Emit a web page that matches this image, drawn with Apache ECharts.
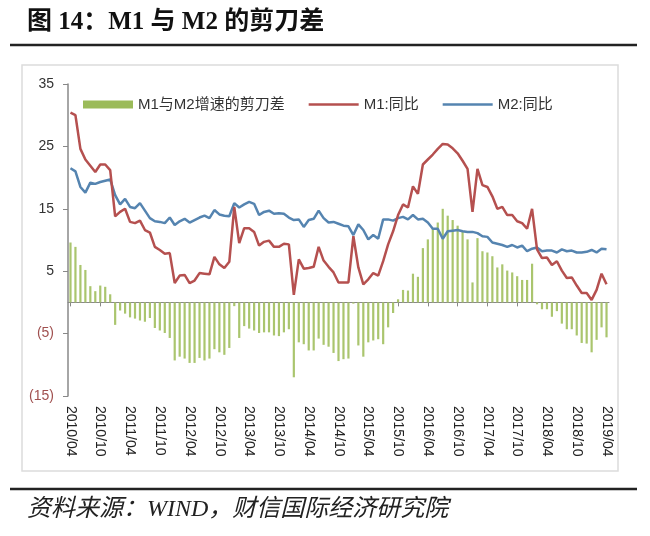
<!DOCTYPE html>
<html>
<head>
<meta charset="utf-8">
<script src="https://cdn.jsdelivr.net/npm/echarts@6/dist/echarts.min.js"></script>
<style>html,body{margin:0;padding:0;background:#fff;}#chart{width:650px;height:536px;}</style>
</head>
<body>
<div id="chart"></div>
<script>
// Months 2010/04 .. 2019/04
const categories = [];
for (let y = 2010; y <= 2019; y++) {
  for (let m = 1; m <= 12; m++) {
    if (y === 2010 && m < 4) continue;
    if (y === 2019 && m > 4) break;
    categories.push(y + '/' + (m < 10 ? '0' + m : m));
  }
}
const yTickValues = [-15, -5, 5, 15, 25, 35];

const m1 = [
  30.4, 30.0, 24.6, 22.9, 21.9, 20.9, 22.1, 22.1, 21.2,
  13.8, 14.5, 15.0, 12.9, 12.7, 13.1, 11.6, 11.2, 8.9, 8.4, 7.8, 7.9,
  3.1, 4.3, 4.4, 3.1, 3.5, 4.7, 4.6, 4.5, 7.3, 6.1, 5.5, 6.5,
  15.3, 9.5, 11.9, 11.9, 11.3, 9.1, 9.7, 9.9, 8.9, 8.9, 9.4, 9.3,
  1.2, 6.9, 5.4, 5.5, 5.7, 8.9, 6.7, 5.7, 4.8, 3.2, 3.2, 3.2,
  10.6, 5.6, 2.9, 3.7, 4.7, 4.3, 6.6, 9.3, 11.4, 14.0, 15.7, 15.2,
  18.6, 17.4, 22.1, 22.9, 23.7, 24.6, 25.4, 25.3, 24.7, 23.9, 22.7, 21.4,
  14.5, 21.4, 18.8, 18.5, 17.0, 15.0, 15.3, 14.0, 14.0, 13.0, 12.7, 11.8,
  15.0, 8.5, 7.1, 7.2, 6.0, 6.6, 5.1, 3.9, 4.0, 2.7, 1.5, 1.5,
  0.4, 2.0, 4.6, 2.9
];
const m2 = [
  21.5, 21.0, 18.5, 17.6, 19.2, 19.0, 19.3, 19.5, 19.7,
  17.2, 15.7, 16.6, 15.3, 15.1, 15.9, 14.7, 13.5, 13.0, 12.9, 12.7, 13.6,
  12.4, 13.0, 13.4, 12.8, 13.2, 13.6, 13.9, 13.5, 14.8, 14.1, 13.9, 13.8,
  15.9, 15.2, 15.7, 16.1, 15.8, 14.0, 14.5, 14.7, 14.2, 14.3, 14.2, 13.6,
  13.2, 13.3, 12.1, 13.2, 13.4, 14.7, 13.5, 12.8, 12.9, 12.6, 12.3, 12.2,
  10.8, 12.5, 11.6, 10.1, 10.8, 10.2, 13.3, 13.3, 13.1, 13.5, 13.7, 13.3,
  14.0, 13.3, 13.4, 12.8, 11.8, 11.8, 10.2, 11.4, 11.5, 11.6, 11.4, 11.3,
  11.3, 11.1, 10.6, 10.5, 9.6, 9.4, 9.2, 8.9, 9.2, 8.8, 9.1, 8.2,
  8.6, 8.8, 8.2, 8.3, 8.3, 8.0, 8.5, 8.2, 8.3, 8.0, 8.0, 8.1,
  8.4, 8.0, 8.6, 8.5
];
const gap = [
  9.6, 8.9, 6.0, 5.2, 2.6, 1.8, 2.7, 2.5, 1.3,
  -3.6, -1.3, -1.8, -2.4, -2.6, -2.9, -3.1, -2.5, -4.1, -4.5, -4.9, -5.7,
  -9.3, -8.7, -9.0, -9.7, -9.7, -8.9, -9.3, -9.0, -7.5, -8.0, -8.4, -7.3,
  -0.6, -5.7, -3.8, -4.2, -4.5, -4.9, -4.8, -4.8, -5.3, -5.4, -4.8, -4.3,
  -12.0, -6.4, -6.7, -7.7, -7.7, -5.8, -6.8, -7.1, -8.1, -9.4, -9.1, -9.0,
  -0.2, -6.9, -8.7, -6.4, -6.1, -5.9, -6.7, -4.0, -1.7, 0.5, 2.0, 1.9,
  4.6, 4.1, 8.7, 10.1, 11.9, 12.8, 15.0, 13.9, 13.2, 12.3, 11.3, 10.1,
  3.2, 10.3, 8.2, 8.0, 7.4, 5.6, 6.1, 5.1, 4.8, 4.2, 3.6, 3.6,
  6.2, -0.3, -1.1, -1.1, -2.3, -1.4, -3.4, -4.3, -4.3, -5.3, -6.5, -6.6,
  -8.0, -6.0, -4.0, -5.6
];

const chart = echarts.init(document.getElementById('chart'), null, {renderer: 'canvas'});
const sans = "'Liberation Sans', 'Noto Sans CJK SC', sans-serif";
const lineIcon = 'path://M0,0L60,0L60,3L0,3Z';
const option = {
  backgroundColor: '#ffffff',
  animation: false,
  graphic: [
    {type: 'text', left: 27, top: 10, style: {text: '图 14：M1 与 M2 的剪刀差', fill: '#111', font: "bold 25px 'Liberation Serif', 'Noto Sans CJK SC', serif"}},
    {type: 'line', shape: {x1: 10, y1: 45, x2: 637, y2: 45}, style: {stroke: '#222', lineWidth: 2.5}},
    {type: 'rect', shape: {x: 22, y: 65, width: 596, height: 406}, style: {fill: 'none', stroke: '#dcdcdc', lineWidth: 1.5}, z: -1},
    {type: 'line', shape: {x1: 10, y1: 489, x2: 637, y2: 489}, style: {stroke: '#222', lineWidth: 2.5}},
    {type: 'text', left: 27, top: 498, style: {text: '资料来源：WIND，财信国际经济研究院', fill: '#222', font: "italic 24px 'Liberation Serif', 'Noto Sans CJK SC', serif"}}
  ],
  legend: {
    left: 78, top: 92, itemWidth: 50, itemHeight: 8, itemGap: 24,
    textStyle: {fontSize: 15, color: '#333', fontFamily: sans},
    data: [
      {name: 'M1与M2增速的剪刀差', icon: 'rect', itemStyle: {color: '#9bbb59'}},
      {name: 'M1:同比', icon: lineIcon, itemStyle: {color: '#b5504f'}},
      {name: 'M2:同比', icon: lineIcon, itemStyle: {color: '#5584b0'}}
    ]
  },
  grid: {left: 68, right: 41, top: 84, bottom: 140, containLabel: false},
  xAxis: [
    {
      type: 'category', data: categories, position: 'bottom', boundaryGap: true,
      axisLine: {show: false, onZero: false}, axisTick: {show: false},
      axisLabel: {interval: 5, rotate: -90, margin: 10, fontSize: 14, color: '#222', fontFamily: sans}
    },
    {
      type: 'category', data: categories, position: 'bottom', boundaryGap: true,
      axisLine: {show: true, onZero: true, lineStyle: {color: '#888', width: 1}},
      axisTick: {show: true, interval: 5, alignWithLabel: true, length: 4, lineStyle: {color: '#888'}},
      axisLabel: {show: false}
    }
  ],
  yAxis: {
    type: 'value', min: -15, max: 35,
    splitLine: {show: false},
    axisLine: {show: true, lineStyle: {color: '#888', width: 1.5}},
    axisTick: {show: true, length: 5, customValues: yTickValues, lineStyle: {color: '#888'}},
    axisLabel: {
      customValues: yTickValues, margin: 14, fontSize: 14, fontFamily: sans,
      formatter: function (v) { v = Number(v); return v < 0 ? '(' + (-v) + ')' : String(v); },
      color: function (v) { return Number(v) < 0 ? '#a0504f' : '#333'; }
    }
  },
  series: [
    {name: 'M1与M2增速的剪刀差', type: 'bar', data: gap, barWidth: 2.2, itemStyle: {color: '#aac56e'}, z: 1},
    {name: 'M1:同比', type: 'line', data: m1, symbol: 'none', lineStyle: {color: '#b5504f', width: 2.5}, itemStyle: {color: '#b5504f'}, z: 3},
    {name: 'M2:同比', type: 'line', data: m2, symbol: 'none', lineStyle: {color: '#5584b0', width: 2.5}, itemStyle: {color: '#5584b0'}, z: 2}
  ]
};
chart.setOption(option);
</script>
</body>
</html>
